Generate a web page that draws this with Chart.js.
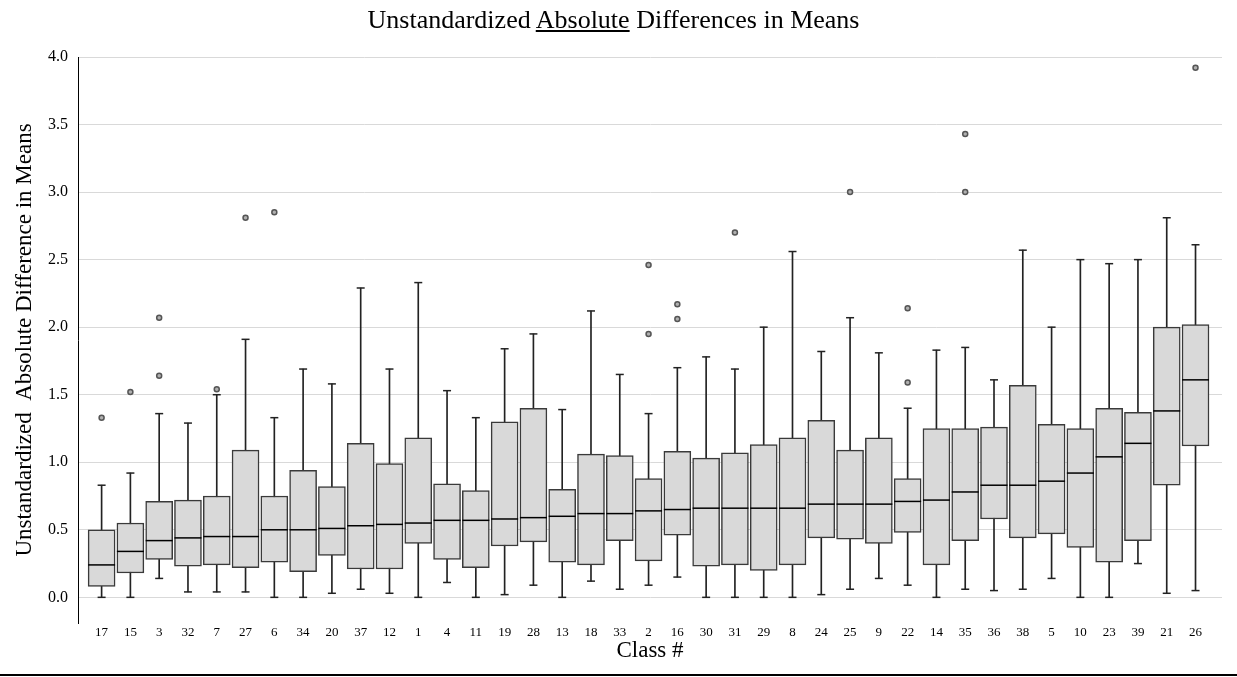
<!DOCTYPE html>
<html>
<head>
<meta charset="utf-8">
<script src="https://cdn.jsdelivr.net/npm/chart.js@4"></script>
<style>
    body { margin: 0; background: #fff; }
    #page { position: relative; width: 1237px; height: 677px; overflow: hidden; }
    #chart { position: absolute; left: 0; top: 0; }
    #titre { position: absolute; left: 0; top: 5px; width: 1227px; text-align: center;
             font-family: "Liberation Serif", serif; font-size: 26px; line-height: 30px; color: #000; }
    #ligne { position: absolute; left: 0; top: 674px; width: 1237px; height: 2px; background: #000; }
</style>
</head>
<body>
<div id="page">
    <canvas id="chart" width="1237" height="674"></canvas>
    <div id="titre">Unstandardized <u>Absolute</u> Differences in Means</div>
    <div id="ligne"></div>
</div>
<script>
// Classes, dans l'ordre de la médiane
const classes = ["17", "15", "3", "32", "7", "27", "6", "34", "20", "37",
                 "12", "1", "4", "11", "19", "28", "13", "18", "33", "2",
                 "16", "30", "31", "29", "8", "24", "25", "9", "22", "14",
                 "35", "36", "38", "5", "10", "23", "39", "21", "26"];

// Valeurs des boîtes
const whiskerLow  = [0.00, 0.00, 0.14, 0.04, 0.04, 0.04, 0.00, 0.00, 0.03, 0.06,
                     0.03, 0.00, 0.11, 0.00, 0.02, 0.09, 0.00, 0.12, 0.06, 0.09,
                     0.15, 0.00, 0.00, 0.00, 0.00, 0.02, 0.06, 0.14, 0.09, 0.00,
                     0.06, 0.05, 0.06, 0.14, 0.00, 0.00, 0.25, 0.03, 0.05];
const q1          = [0.08, 0.18, 0.28, 0.23, 0.24, 0.22, 0.26, 0.19, 0.31, 0.21,
                     0.21, 0.40, 0.28, 0.22, 0.38, 0.41, 0.26, 0.24, 0.42, 0.27,
                     0.46, 0.23, 0.24, 0.20, 0.24, 0.44, 0.43, 0.40, 0.48, 0.24,
                     0.42, 0.58, 0.44, 0.47, 0.37, 0.26, 0.42, 0.83, 1.12];
const median      = [0.24, 0.34, 0.42, 0.44, 0.45, 0.45, 0.50, 0.50, 0.51, 0.53,
                     0.54, 0.55, 0.57, 0.57, 0.58, 0.59, 0.60, 0.62, 0.62, 0.64,
                     0.65, 0.66, 0.66, 0.66, 0.66, 0.69, 0.69, 0.69, 0.71, 0.72,
                     0.78, 0.83, 0.83, 0.86, 0.92, 1.04, 1.14, 1.38, 1.61];
const q3          = [0.50, 0.55, 0.71, 0.72, 0.75, 1.09, 0.75, 0.94, 0.82, 1.14,
                     0.99, 1.18, 0.84, 0.79, 1.30, 1.40, 0.80, 1.06, 1.05, 0.88,
                     1.08, 1.03, 1.07, 1.13, 1.18, 1.31, 1.09, 1.18, 0.88, 1.25,
                     1.25, 1.26, 1.57, 1.28, 1.25, 1.40, 1.37, 2.00, 2.02];
const whiskerHigh = [0.83, 0.92, 1.36, 1.29, 1.50, 1.91, 1.33, 1.69, 1.58, 2.29,
                     1.69, 2.33, 1.53, 1.33, 1.84, 1.95, 1.39, 2.12, 1.65, 1.36,
                     1.70, 1.78, 1.69, 2.00, 2.56, 1.82, 2.07, 1.81, 1.40, 1.83,
                     1.85, 1.61, 2.57, 2.00, 2.50, 2.47, 2.50, 2.81, 2.61];

// Valeurs aberrantes
const outlierClass = ["17", "15", "3", "3", "7", "27", "6", "2", "2", "16",
                      "16", "31", "25", "22", "22", "35", "35", "26"];
const outlierValue = [1.33, 1.52, 1.64, 2.07, 1.54, 2.81, 2.85, 1.95, 2.46, 2.06,
                      2.17, 2.70, 3.00, 1.59, 2.14, 3.00, 3.43, 3.92];

// Graduations de l'axe Y
const yTicks = [0, 0.5, 1, 1.5, 2, 2.5, 3, 3.5, 4];

const serif = "'Liberation Serif', 'Times New Roman', serif";
const ctx = document.getElementById("chart");

const data = {
    datasets: [
        {
            // moustaches
            type: "bar",
            data: classes.map((c, i) => ({ x: i, y: [whiskerLow[i], whiskerHigh[i]] })),
            backgroundColor: "#222",
            barThickness: 1,
            grouped: false,
            order: 5,
        },
        {
            // boîtes Q1 - Q3
            type: "bar",
            data: classes.map((c, i) => ({ x: i, y: [q1[i], q3[i]] })),
            backgroundColor: "#d9d9d9",
            borderColor: "#3a3a3a",
            borderWidth: 1.5,
            borderSkipped: false,
            barThickness: 27,
            grouped: false,
            order: 4,
        },
        {
            // petites barres aux extrémités des moustaches
            type: "scatter",
            data: classes.flatMap((c, i) => [{ x: i, y: whiskerLow[i] }, { x: i, y: whiskerHigh[i] }]),
            pointStyle: "line",
            pointRadius: 4,
            borderColor: "#222",
            pointBorderColor: "#222",
            pointBorderWidth: 1.5,
            order: 3,
        },
        {
            // médianes
            type: "scatter",
            data: classes.map((c, i) => ({ x: i, y: median[i] })),
            pointStyle: "line",
            pointRadius: 13.5,
            borderColor: "#000",
            pointBorderColor: "#000",
            pointBorderWidth: 1.5,
            order: 2,
        },
        {
            // points aberrants
            type: "scatter",
            data: outlierClass.map((c, k) => ({ x: classes.indexOf(c), y: outlierValue[k] })),
            pointStyle: "circle",
            pointRadius: 2.5,
            pointBackgroundColor: "#b0b0b0",
            pointBorderColor: "#555",
            pointBorderWidth: 1.5,
            order: 1,
        },
    ],
};

const config = {
    type: "bar",
    data: data,
    options: {
        responsive: false,
        animation: false,
        events: [],
        layout: { padding: { top: 57, right: 14, left: 0, bottom: 0 } },
        plugins: {
            legend: { display: false },
            tooltip: { enabled: false },
        },
        scales: {
            x: {
                type: "linear",
                min: -0.82,
                max: 38.92,
                offset: false,
                afterBuildTicks: (scale) => { scale.ticks = classes.map((c, i) => ({ value: i })); },
                afterFit: (scale) => { scale.height = 51; },
                grid: { display: false },
                border: { display: false },
                ticks: {
                    autoSkip: false,
                    maxRotation: 0,
                    padding: -6,
                    color: "#000",
                    font: { family: serif, size: 13 },
                    callback: (v) => classes[v],
                },
                title: {
                    display: true,
                    text: "Class #",
                    color: "#000",
                    font: { family: serif, size: 23 },
                    padding: { top: 0, bottom: 9 },
                },
            },
            y: {
                min: -0.19,
                max: 4,
                afterBuildTicks: (scale) => { scale.ticks = yTicks.map((v) => ({ value: v })); },
                afterFit: (scale) => { scale.width = 78; },
                grid: { color: "#d9d9d9", drawTicks: false },
                border: { display: true, color: "#000", width: 1 },
                ticks: {
                    padding: 10,
                    color: "#000",
                    font: { family: serif, size: 16 },
                    callback: (v) => v.toFixed(1),
                },
                title: {
                    display: true,
                    text: "Unstandardized  Absolute Difference in Means",
                    color: "#000",
                    font: { family: serif, size: 23 },
                    padding: { top: 11, bottom: 0 },
                },
            },
        },
    },
};

// Création du graphique
var chart = new Chart(ctx, config);
</script>
</body>
</html>
